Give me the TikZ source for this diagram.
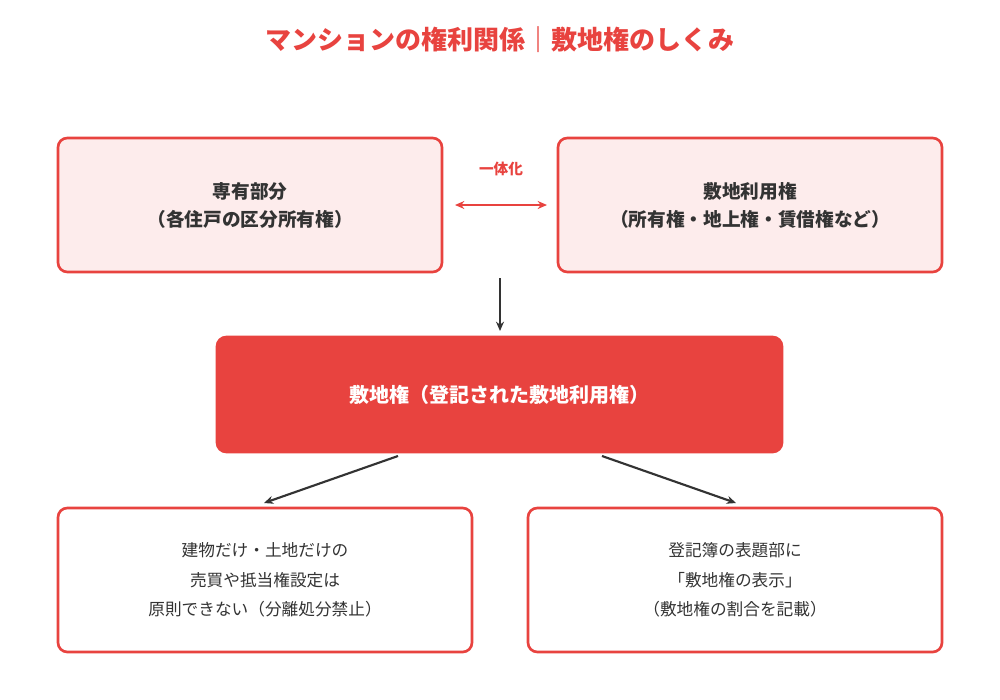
\documentclass[tikz,border=0pt]{standalone}
\usepackage{fontspec}
\setmainfont{Noto Sans CJK JP}
\usetikzlibrary{arrows.meta}
\definecolor{myred}{HTML}{E8433F}
\definecolor{mypink}{HTML}{FDECEC}
\definecolor{mydark}{HTML}{333333}
\begin{document}
\begin{tikzpicture}[x=0.75pt,y=-0.75pt,
  box/.style={draw=myred,line width=2pt,rounded corners=7pt,align=center,inner sep=0pt},
  pinkbox/.style={box,fill=mypink,text=mydark,font=\bfseries\fontsize{14}{21}\selectfont},
  whitebox/.style={box,fill=white,text=mydark,font=\fontsize{12.5}{22}\selectfont},
  arr/.style={draw=mydark,line width=1.6pt,-{Stealth[length=7pt,width=6pt]}}]
\useasboundingbox (0,0) rectangle (1000,700);
\node[font=\bfseries\fontsize{19.5}{24}\selectfont,text=myred] (title) at (500,40) {マンションの権利関係｜敷地権のしくみ};
\node[pinkbox,minimum width=384*0.75pt,minimum height=134*0.75pt] (a) at (250,205) {専有部分\\（各住戸の区分所有権）};
\node[pinkbox,minimum width=384*0.75pt,minimum height=134*0.75pt] (b) at (750,205) {敷地利用権\\（所有権・地上権・賃借権など）};
\node[box,fill=myred,text=white,font=\bfseries\fontsize{15}{20}\selectfont,minimum width=565*0.75pt,minimum height=115*0.75pt] (c) at (499.5,394.5) {敷地権（登記された敷地利用権）};
\node[whitebox,minimum width=414*0.75pt,minimum height=144*0.75pt] (d) at (265,580) {建物だけ・土地だけの\\売買や抵当権設定は\\原則できない（分離処分禁止）};
\node[whitebox,minimum width=414*0.75pt,minimum height=144*0.75pt] (e) at (735,580) {登記簿の表題部に\\「敷地権の表示」\\（敷地権の割合を記載）};
\coordinate (l) at (455,205); \coordinate (r) at (547,205);
\draw[draw=myred,line width=2pt,{Stealth[length=7pt,width=6pt]}-{Stealth[length=7pt,width=6pt]}] (l) -- (r);
\node[font=\bfseries\fontsize{11}{13}\selectfont,text=myred] (lab) at (501,169) {一体化};
\coordinate (p1) at (500,278); \coordinate (p2) at (500,331);
\draw[arr] (p1) -- (p2);
\coordinate (q1) at (398,456); \coordinate (q2) at (264,503);
\draw[arr] (q1) -- (q2);
\coordinate (s1) at (602,456); \coordinate (s2) at (736,503);
\draw[arr] (s1) -- (s2);
\end{tikzpicture}
\end{document}
